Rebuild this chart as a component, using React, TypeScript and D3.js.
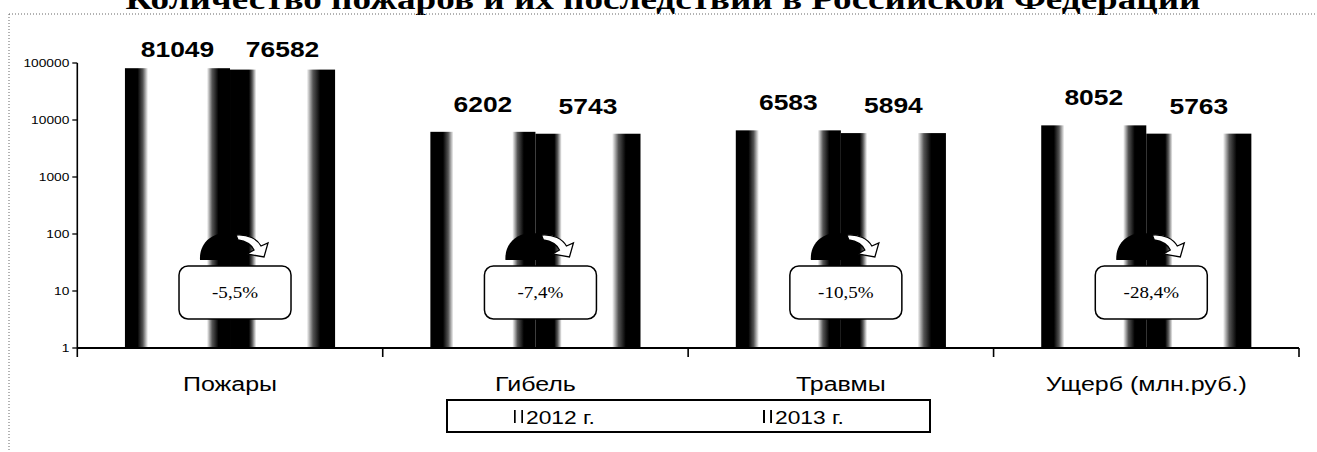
import React from "react";
import * as d3 from "d3";

const categories = ["Пожары", "Гибель", "Травмы", "Ущерб (млн.руб.)"];
const years = ["2012 г.", "2013 г."];
const values2012 = [81049, 6202, 6583, 8052];
const values2013 = [76582, 5743, 5894, 5763];
const yTicks = [1, 10, 100, 1000, 10000, 100000];

const title = "Количество пожаров и их последствий в Российской Федерации";

const W = 1317;
const H = 452;
const SX = 1.24; // the scan is stretched sideways, text follows it

// cylinder-like shading, one per series
const shades = [
  [[0, "#000"], [0.12, "#000"], [0.17, "#555"], [0.22, "#fff"], [0.78, "#fff"], [0.83, "#555"], [0.89, "#000"], [1, "#000"]],
  [[0, "#000"], [0.18, "#000"], [0.21, "#555"], [0.25, "#fff"], [0.73, "#fff"], [0.79, "#555"], [0.86, "#000"], [1, "#000"]],
];

const pct = (a: number, b: number) =>
  d3.format(".1f")(((b - a) / a) * 100).replace("−", "-").replace(".", ",") + "%";

function Stretched(props: any) {
  const { x, y, sx = SX, children, ...rest } = props;
  return (
    <text transform={`translate(${x},${y}) scale(${sx},1)`} {...rest}>
      {children}
    </text>
  );
}

export default function App() {
  const left = 77.3;
  const right = 1299;
  const top = 63;
  const bottom = 348;

  const x0 = d3
    .scaleBand<string>()
    .domain(categories)
    .range([left, right])
    .paddingInner(0.312)
    .paddingOuter(0.156);
  const x1 = d3.scaleBand<string>().domain(years).range([0, x0.bandwidth()]);
  const y = d3.scaleLog().domain([1, 100000]).range([bottom, top]);
  const step = x0.step();
  const bounds = categories.map((_, i) => left + step * (i + 1));

  const series = [values2012, values2013];
  const sans = "'Liberation Sans', Arial, sans-serif";
  const serif = "'Liberation Serif', 'Times New Roman', serif";

  return (
    <svg width={W} height={H} style={{ position: "absolute", left: 0, top: 0 }}>
      <defs>
        {shades.map((st, si) => (
          <linearGradient key={si} id={"cyl" + si} x1="0" x2="1" y1="0" y2="0">
            {st.map(([o, c], k) => (
              <stop key={k} offset={o as number} stopColor={c as string} />
            ))}
          </linearGradient>
        ))}
      </defs>
      <rect width={W} height={H} fill="#fff" />

      {/* title, cut by the top of the scan */}
      <text
        x={663}
        y={9}
        textAnchor="middle"
        fontFamily={serif}
        fontWeight="bold"
        fontSize={30}
        textLength={1075}
        lengthAdjust="spacingAndGlyphs"
      >
        {title}
      </text>

      {/* dotted frame */}
      <line x1={9} x2={W} y1={14} y2={14} stroke="#666" strokeDasharray="1,2" />
      <line x1={9} x2={9} y1={14} y2={H} stroke="#666" strokeDasharray="1,2" />

      {/* bars */}
      {categories.map((c, i) => (
        <g key={c} transform={`translate(${x0(c)},0)`}>
          {series.map((vals, si) => (
            <rect
              key={si}
              x={x1(years[si])}
              y={y(vals[i])}
              width={x1.bandwidth()}
              height={bottom - y(vals[i])}
              fill={`url(#cyl${si})`}
            />
          ))}
        </g>
      ))}

      {/* value labels */}
      {categories.map((c, i) =>
        series.map((vals, si) => (
          <Stretched
            key={c + si}
            x={(x0(c) as number) + (x1(years[si]) as number) + x1.bandwidth() / 2}
            y={Math.max(57, y(vals[i]) - 20)}
            sx={1.2}
            textAnchor="middle"
            fontFamily={sans}
            fontWeight="bold"
            fontSize={22}
          >
            {vals[i]}
          </Stretched>
        ))
      )}

      {/* change callouts */}
      {categories.map((c, i) => {
        const cx = (x0(c) as number) + x0.bandwidth() / 2;
        return (
          <g key={"co" + c}>
            <g transform={`translate(${cx},233)`}>
              <path
                d="M-30,27 C-31,10 -18,0 -4,0 C8,0 14,6 17,14 L17,27 Z"
                fill="#000"
              />
              <path
                d="M6,2 C18,1 27,6 31,13 L38,10 L34,24 L17,21 L24,17 C21,11 15,8 8,7 Z"
                fill="#fff"
                stroke="#000"
                strokeWidth={1.3}
              />
            </g>
            <rect
              x={cx + 5 - 56}
              y={266}
              width={112}
              height={53}
              rx={9}
              fill="#fff"
              stroke="#000"
              strokeWidth={1.5}
            />
            <Stretched
              x={cx + 5}
              y={298}
              sx={1.12}
              textAnchor="middle"
              fontFamily={serif}
              fontSize={17}
            >
              {pct(values2012[i], values2013[i])}
            </Stretched>
          </g>
        );
      })}

      {/* y axis */}
      <line x1={left} x2={left} y1={top} y2={bottom + 9} stroke="#000" strokeWidth={1.6} />
      {yTicks.map((t) => (
        <g key={t}>
          <line x1={left - 5} x2={left} y1={y(t)} y2={y(t)} stroke="#000" strokeWidth={1.3} />
          <Stretched
            x={left - 8}
            y={y(t) + 4}
            sx={1.25}
            textAnchor="end"
            fontFamily={sans}
            fontSize={11}
          >
            {t}
          </Stretched>
        </g>
      ))}

      {/* x axis */}
      <line x1={left} x2={right} y1={bottom} y2={bottom} stroke="#000" strokeWidth={1.8} />
      {bounds.map((b, i) => (
        <line key={i} x1={b} x2={b} y1={bottom} y2={bottom + 9} stroke="#000" strokeWidth={1.6} />
      ))}
      {categories.map((c) => (
        <Stretched
          key={"lab" + c}
          x={(x0(c) as number) + x0.bandwidth() / 2}
          y={391}
          sx={1.25}
          textAnchor="middle"
          fontFamily={sans}
          fontSize={20}
        >
          {c}
        </Stretched>
      ))}

      {/* legend */}
      <rect x={447} y={400} width={483} height={32} fill="#fff" stroke="#000" strokeWidth={2} />
      {years.map((yr, si) => {
        const lx = 514 + si * 249;
        return (
          <g key={yr}>
            <rect x={lx} y={410} width={9} height={13} fill={`url(#cyl${si})`} />
            <Stretched x={lx + 12} y={424} sx={1.2} fontFamily={sans} fontSize={19}>
              {yr}
            </Stretched>
          </g>
        );
      })}
    </svg>
  );
}
